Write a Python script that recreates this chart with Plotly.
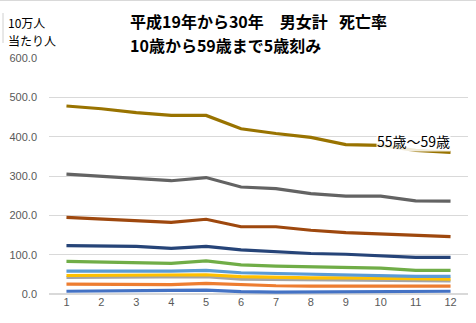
import plotly.graph_objects as go

years = list(range(1, 13))
tick_vals = [1, 2, 3, 4, 5, 6, 7, 8, 9, 10, 11, 12]
y_ticks = [0, 100, 200, 300, 400, 500, 600]
y_tick_text = ["0.0", "100.0", "200.0", "300.0", "400.0", "500.0", "600.0"]

age_groups = ["10歳～14歳", "15歳～19歳", "20歳～24歳", "25歳～29歳", "30歳～34歳",
              "35歳～39歳", "40歳～44歳", "45歳～49歳", "50歳～54歳", "55歳～59歳"]

s10_14 = [7, 7, 8, 9, 10, 6, 5, 5, 6, 6, 7, 7]
s15_19 = [25, 25, 24, 24, 27, 23, 21, 20, 20, 20, 20, 20]
s20_24 = [42, 42, 42, 42, 44, 38, 37, 36, 36, 35, 34, 33]
s25_29 = [47, 47, 47, 47, 49, 44, 42, 41, 41, 40, 38, 38]
s30_34 = [58, 59, 58, 58, 60, 54, 52, 51, 48, 47, 45, 45]
s35_39 = [83, 81, 80, 78, 84, 74, 71, 69, 67, 66, 60, 60]
s40_44 = [123, 122, 121, 116, 121, 112, 107, 103, 101, 96, 93, 93]
s45_49 = [195, 190, 187, 182, 190, 171, 171, 162, 156, 152, 150, 146]
s50_54 = [305, 300, 295, 288, 296, 272, 268, 255, 249, 249, 237, 236]
s55_59 = [478, 471, 461, 454, 454, 420, 408, 398, 380, 378, 365, 360]

series = [s10_14, s15_19, s20_24, s25_29, s30_34, s35_39, s40_44, s45_49, s50_54, s55_59]
colors = ["#4472C4", "#ED7D31", "#A5A5A5", "#FFC000", "#5B9BD5",
          "#70AD47", "#264478", "#9E480E", "#636363", "#997300"]

title_line1 = "平成19年から30年　男女計\u2002\u2009死亡率"
title_line2 = "10歳から59歳まで5歳刻み"
ylabel_line1 = "10万人"
ylabel_line2 = "当たり人"
series_label = "55歳～59歳"

fig = go.Figure()
for name, vals, col in zip(age_groups, series, colors):
    fig.add_trace(go.Scatter(x=years, y=vals, mode="lines", name=name,
                             line=dict(color=col, width=3.2), showlegend=False))

fig.add_annotation(x=12, y=s55_59[9] + 12, xref="x", yref="y", text=series_label,
                   showarrow=False, xanchor="right", yanchor="middle",
                   font=dict(family="Noto Sans CJK JP", size=14, color="#000000"),
                   bgcolor="rgba(255,255,255,0.85)", borderpad=0)


def py(pix):
    return (294 - pix) / 236


def px(pix):
    return (pix - 49) / 419


title_font = dict(family="Noto Sans CJK JP", size=16, color="#000000")
fig.add_annotation(xref="paper", yref="paper", x=px(128), y=py(20.5),
                   text="<b>" + title_line1 + "</b>", showarrow=False,
                   xanchor="left", yanchor="middle", font=title_font)
fig.add_annotation(xref="paper", yref="paper", x=px(128), y=py(44.5),
                   text="<b>" + title_line2 + "</b>", showarrow=False,
                   xanchor="left", yanchor="middle", font=title_font)

ylab_font = dict(family="Noto Sans CJK JP", size=12, color="#000000")
fig.add_annotation(xref="paper", yref="paper", x=px(6), y=py(23),
                   text=ylabel_line1, showarrow=False,
                   xanchor="left", yanchor="middle", font=ylab_font)
fig.add_annotation(xref="paper", yref="paper", x=px(6), y=py(41),
                   text=ylabel_line2, showarrow=False,
                   xanchor="left", yanchor="middle", font=ylab_font)

fig.update_layout(
    width=476, height=323,
    margin=dict(l=49, r=8, t=58, b=29),
    paper_bgcolor="white", plot_bgcolor="white",
    xaxis=dict(range=[0.5, 12.5], tickvals=tick_vals, showgrid=False, zeroline=False,
               showline=False, ticks="", tickfont=dict(family="Liberation Sans", size=11, color="#595959")),
    yaxis=dict(range=[0, 600], tickvals=y_ticks, ticktext=y_tick_text, showgrid=True,
               gridcolor="#D9D9D9", gridwidth=1, zeroline=True, zerolinecolor="#D9D9D9",
               showline=False, ticks="", ticklabelstandoff=11,
               tickfont=dict(family="Liberation Sans", size=11, color="#595959")),
    shapes=[
        dict(type="line", xref="paper", yref="paper", x0=-0.2, x1=1.1,
             y0=py(0.5), y1=py(0.5), line=dict(color="#D9D9D9", width=1)),
        dict(type="line", xref="paper", yref="paper", x0=px(3), x1=px(3),
             y0=py(13), y1=py(43), line=dict(color="#D0D0D0", width=1)),
    ],
)

fig.write_html("out.html")
